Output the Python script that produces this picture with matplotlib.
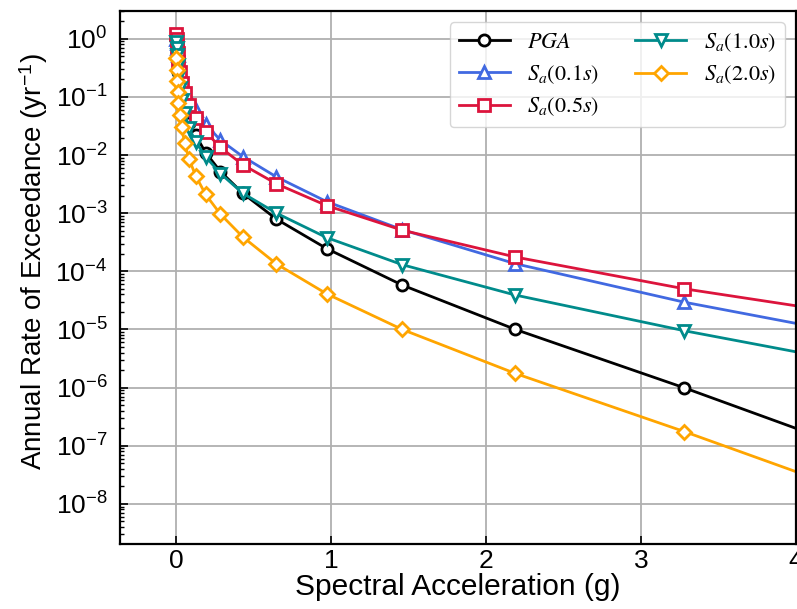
import matplotlib
matplotlib.use("Agg")
import matplotlib.pyplot as plt
from matplotlib.ticker import LogLocator, NullFormatter

plt.rcParams['font.family'] = ['Liberation Sans', 'DejaVu Sans']
plt.rcParams['mathtext.fontset'] = 'stix'

# ---- dados ----
sa_g = [0.0033, 0.005, 0.0075, 0.0113, 0.0169, 0.0253, 0.038, 0.057, 0.0854,
        0.128, 0.192, 0.288, 0.432, 0.649, 0.973, 1.46, 2.19, 3.28, 4.93]

pga = [0.95, 0.75, 0.56, 0.40, 0.27, 0.17, 0.105, 0.063, 0.036, 0.022, 0.011,
       0.0052, 0.0022, 7.9e-4, 2.46e-4, 5.8e-5, 1.0e-5, 9.9e-7, 2.5e-8]
sa_01 = [1.0, 0.85, 0.68, 0.52, 0.38, 0.27, 0.18, 0.125, 0.089, 0.06, 0.034,
         0.018, 0.0094, 0.0042, 1.58e-3, 5.2e-4, 1.35e-4, 2.94e-5, 4.3e-6]
sa_05 = [1.23, 0.98, 0.75, 0.56, 0.40, 0.27, 0.175, 0.117, 0.073, 0.044, 0.025,
         0.0135, 0.0068, 0.0032, 1.35e-3, 5.1e-4, 1.76e-4, 5.0e-5, 1.07e-5]
sa_10 = [0.89, 0.68, 0.52, 0.35, 0.22, 0.14, 0.088, 0.053, 0.029, 0.017, 0.0094,
         0.0048, 0.0022, 1.0e-3, 3.8e-4, 1.3e-4, 3.9e-5, 9.5e-6, 1.4e-6]
sa_20 = [0.46, 0.29, 0.187, 0.122, 0.077, 0.049, 0.03, 0.016, 8.5e-3, 4.4e-3,
         2.1e-3, 9.6e-4, 3.9e-4, 1.34e-4, 4.1e-5, 1.0e-5, 1.75e-6, 1.75e-7, 4.6e-9]

labels = [r'$PGA$', r'$S_a(0.1s)$', r'$S_a(0.5s)$', r'$S_a(1.0s)$', r'$S_a(2.0s)$']
curvas = [pga, sa_01, sa_05, sa_10, sa_20]
cores = ['black', 'royalblue', 'crimson', 'darkcyan', 'orange']
marcadores = ['o', '^', 's', 'v', 'D']

# ---- figura ----
fig = plt.figure(figsize=(7.97, 6.09), dpi=100)
ax = fig.add_axes([120 / 797, 65 / 609, 676 / 797, 533 / 609])

for y, lab, c, m in zip(curvas, labels, cores, marcadores):
    ms = 7 if m == 'D' else 8
    ax.plot(sa_g, y, color=c, marker=m, label=lab, linewidth=2,
            markersize=ms, markerfacecolor='white', markeredgewidth=2)

ax.set_yscale('log')
ax.set_xlim(-0.36, 4.0)
ax.set_ylim(2.04e-9, 3.0)

ax.yaxis.set_major_locator(LogLocator(base=10, numticks=20))
ax.yaxis.set_minor_locator(LogLocator(base=10, subs=range(2, 10), numticks=20))
ax.yaxis.set_minor_formatter(NullFormatter())
ax.set_xticks([0, 1, 2, 3, 4])

ax.grid(True, which='major', color='#b0b0b0', linewidth=1.3)
ax.set_axisbelow(True)
ax.tick_params(which='both', direction='in', top=False, right=False, labelsize=19)
ax.tick_params(which='major', length=6, width=1.2)
ax.tick_params(which='minor', length=3, width=1.0)
ax.tick_params(axis='y', which='major', pad=9)
for s in ax.spines.values():
    s.set_linewidth(1.6)

ax.set_xlabel('Spectral Acceleration (g)', fontsize=21.5, labelpad=0)
ax.set_ylabel(r'Annual Rate of Exceedance (yr$^{\mathdefault{-1}}$)', fontsize=20)
ax.yaxis.set_label_coords(-0.104, 0.53)

ax.legend(loc='upper right', ncol=2, fontsize=16, handlelength=2.3,
          labelspacing=0.45, columnspacing=1.6)

fig.savefig('out.png', dpi=100)
